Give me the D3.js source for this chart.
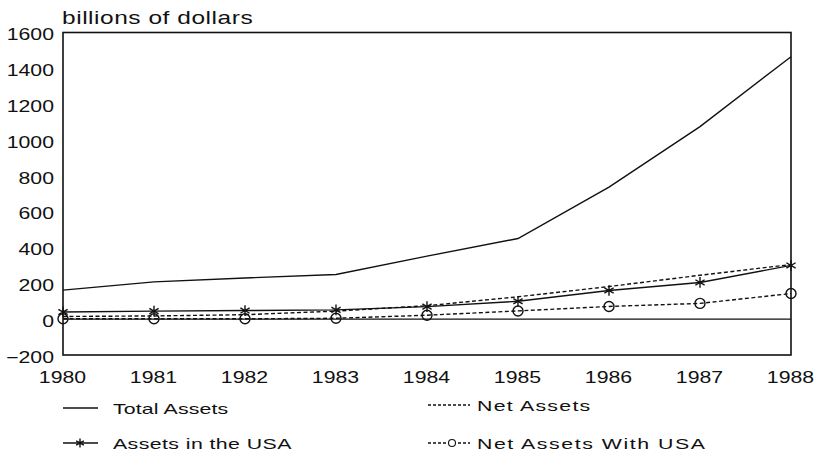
<!DOCTYPE html>
<html><head><meta charset="utf-8">
<script src="https://cdn.jsdelivr.net/npm/d3@7"></script>
<style>
body{margin:0;background:#fff;}
text{font-family:"Liberation Sans",Arial,sans-serif;fill:#111;}
</style></head>
<body><svg id="c" width="822" height="460"></svg>
<script>
const years = [1980,1981,1982,1983,1984,1985,1986,1987,1988];
const totalAssets = [162,208,230,249,352,450,737,1075,1465];
const assetsUSA = [40,45,48,52,70,100,160,205,300];
const netAssets = [15,18,25,45,75,125,182,245,305];
const netAssetsWithUSA = [2,2,2,5,22,46,71,88,143];
const yTicks = [-200,0,200,400,600,800,1000,1200,1400,1600];
const yLabel = "billions of dollars";
const seriesNames = ["Total Assets","Assets in the USA","Net Assets","Net Assets With USA"];

const SX = 1.33;
const svg = d3.select("#c");
const x = d3.scaleLinear().domain([1980,1988]).range([63,791]);
const y = d3.scaleLinear().domain([-200,1600]).range([355,32.5]);

// y axis labels
const ya = svg.append("g").attr("transform","translate(63,0)")
  .call(d3.axisLeft(y).tickValues(yTicks).tickSize(0).tickFormat(d3.format("d")));
ya.select(".domain").remove();
ya.selectAll("text").attr("x",0).attr("dy","0.45em").attr("font-size",16)
  .attr("font-family","Liberation Sans, Arial, sans-serif").attr("fill","#111")
  .attr("transform",`translate(-9,0) scale(${SX},1)`);

// x axis labels
const xa = svg.append("g").attr("transform","translate(0,355)")
  .call(d3.axisBottom(x).tickValues(years).tickSize(0).tickFormat(d3.format("d")));
xa.select(".domain").remove();
xa.selectAll("text").attr("y",0).attr("dy","0").attr("font-size",16)
  .attr("font-family","Liberation Sans, Arial, sans-serif").attr("fill","#111")
  .attr("transform",`translate(-1,28) scale(${SX},1)`);

// title
svg.append("text").attr("font-size",18).attr("letter-spacing",0.4)
  .attr("transform",`translate(62,24) scale(1.36,1)`).text(yLabel);

// frame
svg.append("rect").attr("x",x(1980)).attr("y",y(1600)).attr("width",x(1988)-x(1980)).attr("height",y(-200)-y(1600))
  .attr("fill","none").attr("stroke","#111").attr("stroke-width",1.6);
// zero line
svg.append("line").attr("x1",x(1980)).attr("x2",x(1988)).attr("y1",y(0)).attr("y2",y(0))
  .attr("stroke","#111").attr("stroke-width",1.3);

const line = d3.line().x((d,i)=>x(years[i])).y(d=>y(d));
const ast = d3.symbol().type(d3.symbolAsterisk).size(80);

function drawSeries(vals, dash, marker){
  svg.append("path").datum(vals).attr("d",line).attr("fill","none")
    .attr("stroke","#111").attr("stroke-width",1.4).attr("stroke-dasharray",dash);
  if(marker==="ast"){
    svg.append("g").selectAll("path").data(vals).join("path")
      .attr("d",ast).attr("transform",(d,i)=>`translate(${x(years[i])},${y(d)})`)
      .attr("fill","none").attr("stroke","#111").attr("stroke-width",1.4);
  } else if(marker==="circle"){
    svg.append("g").selectAll("circle").data(vals).join("circle")
      .attr("cx",(d,i)=>x(years[i])).attr("cy",d=>y(d)).attr("r",5)
      .attr("fill","none").attr("stroke","#111").attr("stroke-width",1.4);
  }
}
drawSeries(totalAssets,null,null);
drawSeries(netAssets,"4,2.5",null);
drawSeries(netAssetsWithUSA,"4,2.5","circle");
drawSeries(assetsUSA,null,"ast");

// legend
const leg = [
  {name:seriesNames[0], lx:63, ly:408, len:35, tx:113, ls:0.1, sx:1.42, dash:null, m:null},
  {name:seriesNames[1], lx:63, ly:443, len:35, tx:113, ls:0.3, sx:1.42, dash:null, m:"ast"},
  {name:seriesNames[2], lx:428, ly:405, len:42, tx:477, ls:0.9, sx:1.42, dash:"3,2", m:null},
  {name:seriesNames[3], lx:428, ly:443, len:42, tx:477, ls:1.1, sx:1.42, dash:"3,2", m:"circle"}
];
leg.forEach(l=>{
  svg.append("line").attr("x1",l.lx).attr("x2",l.lx+l.len).attr("y1",l.ly).attr("y2",l.ly)
    .attr("stroke","#111").attr("stroke-width",1.3).attr("stroke-dasharray",l.dash);
  if(l.m==="ast") svg.append("path").attr("d",d3.symbol().type(d3.symbolAsterisk).size(55)())
    .attr("transform",`translate(${l.lx+17},${l.ly})`).attr("fill","none").attr("stroke","#111").attr("stroke-width",1.4);
  if(l.m==="circle") svg.append("circle").attr("cx",l.lx+24).attr("cy",l.ly).attr("r",3.5)
    .attr("fill","#fff").attr("stroke","#111").attr("stroke-width",1.1);
  svg.append("text").attr("font-size",15).attr("letter-spacing",l.ls)
    .attr("transform",`translate(${l.tx},${l.ly+5.5}) scale(${l.sx},1)`).text(l.name);
});
</script></body></html>
